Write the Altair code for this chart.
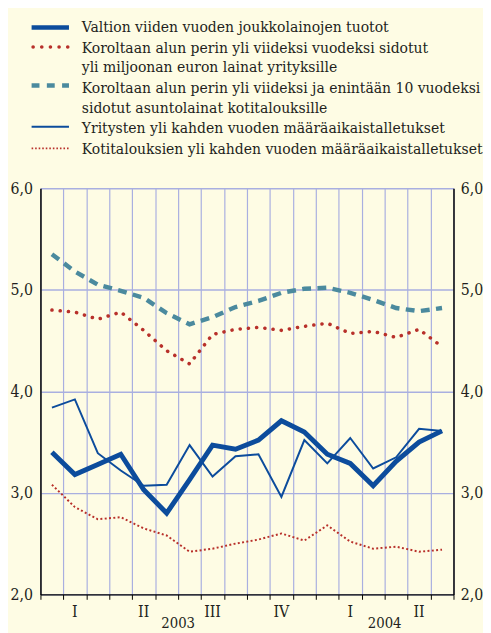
import altair as alt
import pandas as pd

# ---------------- data ----------------
n_months = 18  # Jan 2003 .. Jun 2004
valtion = [3.40, 3.18, 3.28, 3.38, 3.03, 2.80, 3.13, 3.47, 3.43, 3.52, 3.71, 3.60, 3.38, 3.29, 3.07, 3.31, 3.50, 3.61]
yritys_lainat = [4.80, 4.78, 4.71, 4.78, 4.60, 4.40, 4.27, 4.56, 4.61, 4.63, 4.60, 4.64, 4.67, 4.57, 4.59, 4.53, 4.61, 4.44]
asuntolainat = [5.35, 5.18, 5.05, 4.99, 4.92, 4.77, 4.66, 4.73, 4.83, 4.89, 4.97, 5.01, 5.02, 4.97, 4.90, 4.82, 4.79, 4.82]
yritys_talletus = [3.84, 3.92, 3.39, 3.22, 3.07, 3.08, 3.47, 3.16, 3.36, 3.38, 2.96, 3.52, 3.29, 3.54, 3.24, 3.35, 3.63, 3.61]
koti_talletus = [3.08, 2.86, 2.74, 2.76, 2.65, 2.58, 2.42, 2.45, 2.50, 2.54, 2.60, 2.53, 2.68, 2.52, 2.45, 2.47, 2.42, 2.44]

quarter_labels = ["I", "II", "III", "IV", "I", "II"]
year_labels = ["2003", "2004"]
year_months = [12, 6]  # number of months of each year shown
y_ticks = [2, 3, 4, 5, 6]

legend_lines = [
    "Valtion viiden vuoden joukkolainojen tuotot",
    "Koroltaan alun perin yli viideksi vuodeksi sidotut",
    "yli miljoonan euron lainat yrityksille",
    "Koroltaan alun perin yli viideksi ja enintään 10 vuodeksi",
    "sidotut asuntolainat kotitalouksille",
    "Yritysten yli kahden vuoden määräaikaistalletukset",
    "Kotitalouksien yli kahden vuoden määräaikaistalletukset",
]

# ---------------- styles ----------------
FONT = "DejaVu Serif Condensed, DejaVu Serif"
BG = "#fefce4"
GRID = "#a9afe0"
BLUE = "#0c4c9c"
TEAL = "#4b8a9e"
RED = "#b8302a"
TXT = "#231f20"

months = [i + 0.5 for i in range(n_months)]

def series_df(vals):
    return pd.DataFrame({"m": months, "v": vals})

xscale = alt.Scale(domain=[0, n_months], nice=False, zero=False)
yscale = alt.Scale(domain=[2, 6], nice=False, zero=False)
xaxis = alt.Axis(values=list(range(n_months + 1)), grid=True, gridColor=GRID, gridWidth=1.2,
                 labels=False, ticks=True, tickSize=5, tickColor="black", tickWidth=1,
                 domain=True, domainColor="black", domainWidth=1.2, title=None)
label_expr = "replace(format(datum.value, '.1f'), '.', ',')"
yaxis_left = alt.Axis(values=y_ticks, grid=True, gridColor=GRID, gridWidth=1.4, ticks=False,
                      domain=True, domainColor="black", domainWidth=1.5, labelExpr=label_expr,
                      labelPadding=8, labelFontSize=16, labelFont=FONT, labelColor=TXT,
                      labelBaseline="alphabetic", labelOffset=5, title=None, orient="left")
yaxis_right = alt.Axis(values=y_ticks, grid=False, ticks=False, domain=True, domainColor="black",
                       domainWidth=1.5, labelExpr=label_expr, labelPadding=7, labelFontSize=16,
                       labelFont=FONT, labelColor=TXT, labelBaseline="alphabetic", labelOffset=5,
                       title=None, orient="right")

X = alt.X("m:Q", scale=xscale, axis=xaxis)
Y = alt.Y("v:Q", scale=yscale, axis=yaxis_left)
YR = alt.Y("v:Q", scale=yscale, axis=yaxis_right)

koti = alt.Chart(series_df(koti_talletus)).mark_line(
    color=RED, strokeWidth=2, strokeDash=[2, 2.4]).encode(x=X, y=Y)
yrl = alt.Chart(series_df(yritys_lainat)).mark_line(
    color=RED, strokeWidth=3.6, strokeDash=[0.1, 8.3], strokeCap="round").encode(x=X, y=Y)
asu = alt.Chart(series_df(asuntolainat)).mark_line(
    color=TEAL, strokeWidth=4.5, strokeDash=[9, 6.5]).encode(x=X, y=Y)
yrt = alt.Chart(series_df(yritys_talletus)).mark_line(
    color=BLUE, strokeWidth=2).encode(x=X, y=Y)

# quarter & year labels placed with the x scale
q_df = pd.DataFrame({"m": [3 * i + 1.5 for i in range(len(quarter_labels))], "t": quarter_labels})
starts = [0]
for k in year_months[:-1]:
    starts.append(starts[-1] + k)
y_df = pd.DataFrame({"m": [s + k / 2 for s, k in zip(starts, year_months)], "t": year_labels})
qtext = alt.Chart(q_df).mark_text(font=FONT, fontSize=16, color=TXT, baseline="alphabetic").encode(
    x=X, y=alt.value(436), text="t:N")
ytext = alt.Chart(y_df).mark_text(font=FONT, fontSize=15, color=TXT, baseline="alphabetic").encode(
    x=X, y=alt.value(447), text="t:N")

inner = alt.layer(koti, yrl, asu, yrt, qtext, ytext)

val = alt.Chart(series_df(valtion)).mark_line(
    color=BLUE, strokeWidth=5, strokeJoin="miter").encode(x=X, y=YR)

# ---------------- legend (decoration) ----------------
base_y = [-159, -138, -118, -97, -77, -56, -35]
sym_y = [-163.5, -143.5, -104.5, -62.5, -40.5]
sym_styles = [
    dict(color=BLUE, strokeWidth=4.5),
    dict(color=RED, strokeWidth=3.6, strokeDash=[0.1, 8.7], strokeCap="round"),
    dict(color=TEAL, strokeWidth=4.5, strokeDash=[8, 7.5]),
    dict(color=BLUE, strokeWidth=2),
    dict(color=RED, strokeWidth=1.6, strokeDash=[1.6, 2]),
]
leg_df = pd.DataFrame({"k": [0]})
leg_layers = []
for sy, st in zip(sym_y, sym_styles):
    x0 = -9 if st.get("strokeCap") != "round" else -7.5
    leg_layers.append(alt.Chart(leg_df).mark_rule(**st).encode(
        x=alt.value(x0), x2=alt.value(29), y=alt.value(sy)))
for by, txt in zip(base_y, legend_lines):
    leg_layers.append(alt.Chart(leg_df).mark_text(
        font=FONT, fontSize=15.8, color=TXT, align="left", baseline="alphabetic", text=txt).encode(
        x=alt.value(42), y=alt.value(by)))

chart = alt.layer(inner, val, *leg_layers).resolve_axis(y="independent").properties(
    width=420, height=413,
    autosize=alt.AutoSizeParams(type="none"),
    padding={"left": 33, "top": 178, "right": 30, "bottom": 34},
    background=BG,
).configure_view(stroke=None)

chart.save("out.html", embed_options={"renderer": "svg", "actions": False})
